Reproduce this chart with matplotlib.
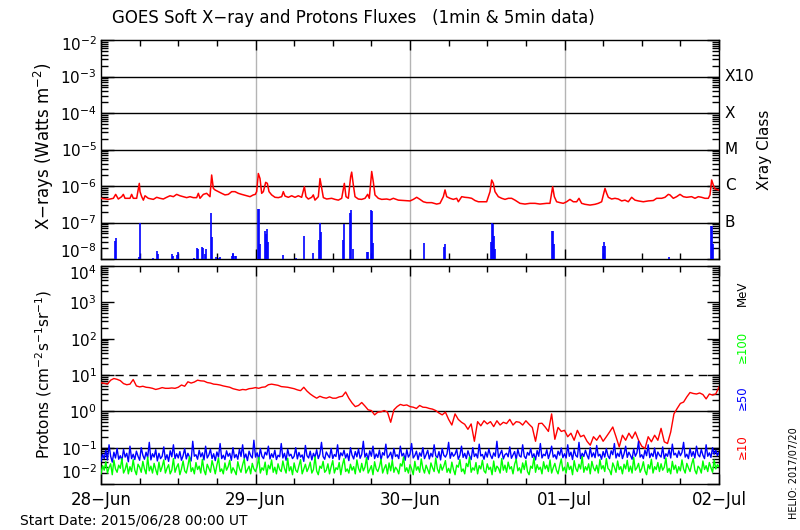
import matplotlib
matplotlib.use('Agg')
import matplotlib.pyplot as plt
import matplotlib.transforms as mtransforms
import numpy as np
from matplotlib.ticker import FixedLocator, LogLocator, NullFormatter, MultipleLocator

plt.rcParams['font.family'] = ['DejaVu Sans']
plt.rcParams['mathtext.fontset'] = 'dejavusans'

# ---------------- DATA ----------------
# hours since 2015-06-28 00:00 UT
day_labels = ['28\u2212Jun', '29\u2212Jun', '30\u2212Jun', '01\u2212Jul', '02\u2212Jul']
day_hours = [0, 24, 48, 72, 96]

# GOES long channel (1-8 A), (hour, W m^-2)
xray_long = [
    (0.0, 4.6e-7), (1.14, 4.3e-7), (1.92, 4.6e-7), (2.28, 5.9e-7), (2.69, 4.4e-7),
    (3.21, 5.1e-7), (3.47, 5.9e-7), (3.73, 4.6e-7), (4.5, 4.6e-7), (4.76, 5.9e-7),
    (5.02, 4.6e-7), (5.54, 4.6e-7), (5.95, 1.18e-6), (6.06, 7.0e-7), (6.32, 5.1e-7),
    (6.58, 4.1e-7), (6.84, 5.4e-7), (7.35, 4.6e-7), (8.13, 4.3e-7), (8.65, 4.9e-7),
    (9.17, 4.6e-7), (9.68, 4.4e-7), (10.2, 4.9e-7), (10.72, 5.4e-7), (11.24, 5.1e-7),
    (11.75, 5.9e-7), (12.27, 5.4e-7), (12.79, 5.1e-7), (13.31, 4.8e-7), (13.83, 5.1e-7),
    (14.34, 4.8e-7), (14.86, 4.8e-7), (15.12, 6.3e-7), (15.38, 4.6e-7), (15.9, 5.9e-7),
    (16.41, 6.3e-7), (16.93, 5.1e-7), (17.19, 2.0e-6), (17.45, 8.6e-7), (17.71, 7.8e-7),
    (18.23, 7.0e-7), (18.74, 6.3e-7), (19.26, 5.7e-7), (19.78, 5.9e-7), (20.3, 7.0e-7),
    (20.82, 7.0e-7), (21.33, 6.3e-7), (21.85, 5.9e-7), (22.63, 5.4e-7), (23.15, 5.1e-7),
    (23.66, 5.7e-7), (23.97, 5.9e-7), (24.18, 7.0e-7), (24.44, 2.2e-6), (24.7, 1.6e-6),
    (24.96, 6.3e-7), (25.22, 7.0e-7), (25.58, 1.26e-6), (25.84, 1.18e-6), (26.1, 7.0e-7),
    (26.51, 5.7e-7), (27.03, 4.9e-7), (27.55, 4.8e-7), (28.07, 5.1e-7), (28.32, 7.0e-7),
    (28.58, 5.3e-7), (29.1, 4.9e-7), (29.62, 5.4e-7), (30.14, 4.9e-7), (30.65, 5.4e-7),
    (31.17, 4.9e-7), (31.59, 9.6e-7), (31.84, 5.1e-7), (32.2, 4.4e-7), (32.73, 4.9e-7),
    (32.98, 5.7e-7), (33.24, 4.1e-7), (33.76, 5.1e-7), (34.02, 1.6e-6), (34.28, 8.6e-7),
    (34.54, 4.8e-7), (35.06, 4.4e-7), (35.83, 4.6e-7), (36.35, 4.3e-7), (36.87, 4.1e-7),
    (37.39, 4.6e-7), (37.8, 1.18e-6), (38.06, 5.1e-7), (38.42, 4.6e-7), (38.78, 1.8e-6),
    (38.94, 2.4e-6), (39.2, 1.06e-6), (39.46, 5.1e-7), (39.97, 4.4e-7), (40.49, 4.3e-7),
    (41.01, 4.6e-7), (41.42, 5.9e-7), (41.68, 4.6e-7), (42.05, 2.5e-6), (42.3, 1.3e-6),
    (42.56, 5.7e-7), (43.08, 4.6e-7), (43.6, 4.3e-7), (44.38, 4.4e-7), (44.89, 4.2e-7),
    (45.41, 4.6e-7), (46.19, 4.1e-7), (47.22, 4.0e-7), (48.0, 3.9e-7), (48.52, 4.3e-7),
    (49.04, 4.9e-7), (49.55, 4.3e-7), (50.07, 3.7e-7), (50.59, 3.5e-7), (51.37, 3.5e-7),
    (52.14, 3.2e-7), (52.66, 3.35e-7), (53.18, 5.1e-7), (53.44, 7.8e-7), (53.7, 5.1e-7),
    (54.21, 4.6e-7), (54.73, 4.3e-7), (55.25, 4.6e-7), (55.51, 3.7e-7), (56.03, 5.1e-7),
    (56.54, 4.9e-7), (57.06, 4.8e-7), (57.58, 4.6e-7), (58.1, 4.0e-7), (58.62, 3.7e-7),
    (59.13, 3.7e-7), (59.91, 3.7e-7), (60.43, 7.0e-7), (60.69, 1.46e-6), (60.95, 1.18e-6),
    (61.2, 7.0e-7), (61.72, 5.1e-7), (62.24, 4.6e-7), (62.76, 4.3e-7), (63.28, 4.6e-7),
    (63.79, 4.6e-7), (64.31, 4.1e-7), (65.08, 3.35e-7), (65.86, 3.2e-7), (66.64, 3.35e-7),
    (67.41, 3.35e-7), (68.19, 3.2e-7), (69.23, 3.35e-7), (69.74, 3.35e-7), (70.0, 6.3e-7),
    (70.16, 9.6e-7), (70.42, 5.1e-7), (70.78, 3.7e-7), (71.3, 3.5e-7), (71.81, 3.35e-7),
    (72.33, 3.7e-7), (72.85, 4.3e-7), (73.37, 3.7e-7), (73.89, 3.7e-7), (74.25, 4.6e-7),
    (74.66, 3.35e-7), (75.18, 3.15e-7), (75.96, 3.0e-7), (76.73, 3.15e-7), (77.25, 3.35e-7),
    (77.77, 3.7e-7), (78.29, 8.6e-7), (78.55, 6.3e-7), (78.81, 4.9e-7), (79.32, 4.4e-7),
    (79.84, 4.6e-7), (80.36, 4.4e-7), (80.88, 3.9e-7), (81.39, 4.1e-7), (81.91, 3.7e-7),
    (82.43, 4.9e-7), (82.95, 4.1e-7), (83.47, 3.9e-7), (84.24, 3.7e-7), (85.02, 3.9e-7),
    (85.8, 4.0e-7), (86.31, 4.6e-7), (87.09, 4.6e-7), (87.61, 4.9e-7), (88.13, 5.9e-7),
    (88.38, 5.7e-7), (88.64, 5.1e-7), (88.9, 4.6e-7), (89.42, 5.1e-7), (89.94, 5.9e-7),
    (90.46, 5.1e-7), (90.97, 4.9e-7), (91.75, 5.1e-7), (92.27, 4.6e-7), (92.79, 5.1e-7),
    (93.3, 4.9e-7), (93.82, 4.6e-7), (94.34, 4.6e-7), (94.6, 5.7e-7), (94.86, 1.46e-6),
    (95.12, 1.06e-6), (95.37, 8.3e-7), (95.89, 7.8e-7), (96.0, 7.8e-7),
]

# GOES short channel (0.5-4 A) flare spikes above 1e-8, (hour, W m^-2)
xray_short = [
    (2.23, 3.1e-8), (2.38, 3.8e-8), (5.96, 1.13e-8), (6.11, 1.0e-7), (8.13, 1.04e-8),
    (8.75, 1.65e-8), (8.91, 1.37e-8), (11.03, 1.37e-8), (11.2, 1.23e-8), (11.86, 1.29e-8),
    (12.01, 1.52e-8), (14.5, 1.04e-8), (14.91, 2.0e-8), (15.07, 1.88e-8), (15.74, 2.18e-8),
    (15.9, 1.96e-8), (16.21, 1.4e-8), (16.36, 1.88e-8), (17.14, 1.82e-7), (17.3, 4.0e-8),
    (17.92, 1.13e-8), (18.28, 1.09e-8), (18.49, 1.11e-8), (20.3, 1.21e-8), (20.45, 1.4e-8),
    (20.56, 1.43e-8), (20.87, 1.21e-8), (21.02, 1.21e-8), (24.39, 2.4e-7), (24.6, 2.4e-7),
    (24.75, 2.6e-8), (25.53, 5.8e-8), (25.68, 4.8e-8), (25.84, 6.6e-8), (25.99, 2.9e-8),
    (28.32, 1.29e-8), (30.29, 1.07e-8), (31.59, 4.4e-8), (32.98, 1.5e-8), (33.92, 3.3e-8),
    (34.07, 9.9e-8), (34.23, 5.6e-8), (37.64, 3.3e-8), (37.8, 9.1e-8), (38.73, 1.86e-7),
    (38.89, 2.2e-7), (39.2, 1.88e-8), (41.37, 1.52e-8), (41.53, 1.52e-8), (41.99, 2.2e-7),
    (42.15, 2.1e-7), (42.3, 2.8e-8), (50.23, 2.7e-8), (53.33, 2.1e-8), (53.49, 2.6e-8),
    (60.53, 2.9e-8), (60.69, 9.9e-8), (60.84, 8.9e-8), (61.0, 4.4e-8), (61.15, 1.88e-8),
    (70.11, 5.8e-8), (70.26, 5.8e-8), (70.42, 2.6e-8), (78.03, 2.3e-8), (78.18, 2.9e-8),
    (78.34, 2.3e-8), (88.18, 1.11e-8), (94.8, 8.0e-8), (94.96, 8.0e-8), (95.12, 2.6e-8),
]

# Proton >=10 MeV, 30-minute samples starting 28-Jun 00:00 UT (pfu)
proton_ge10_step_hours = 0.5
proton_ge10 = [
    6.1, 5.9, 5.6, 7.2, 8.0, 7.6, 7.0, 5.8, 5.4, 5.6,
    7.5, 5.0, 4.7, 4.9, 4.6, 4.5, 4.3, 4.0, 4.2, 4.5,
    4.3, 4.3, 4.4, 4.3, 4.6, 5.3, 4.9, 6.5, 6.0, 6.4,
    7.2, 6.9, 6.8, 6.2, 6.0, 5.6, 5.5, 5.3, 5.0, 4.8,
    4.6, 4.2, 4.0, 3.8, 4.0, 3.9, 4.2, 4.3, 4.5, 4.3,
    4.6, 4.7, 5.4, 5.6, 5.4, 5.2, 4.8, 4.7, 4.6, 4.4,
    4.2, 3.9, 3.7, 4.6, 3.6, 3.0, 2.6, 2.3, 2.6, 2.4,
    2.3, 2.5, 2.3, 2.3, 2.5, 2.6, 3.4, 2.3, 1.7, 1.35,
    1.45, 1.75, 1.4, 1.1, 1.05, 0.8, 0.95, 0.97, 1.05, 0.95,
    0.5, 1.1, 1.35, 1.55, 1.45, 1.5, 1.35, 1.3, 1.2, 1.45,
    1.3, 1.28, 1.2, 1.15, 1.05, 0.9, 0.8, 0.95, 0.6, 0.42,
    0.85, 0.6, 0.5, 0.44, 0.32, 0.45, 0.15, 0.52, 0.4, 0.55,
    0.45, 0.52, 0.38, 0.55, 0.42, 0.5, 0.46, 0.6, 0.42, 0.52,
    0.5, 0.42, 0.55, 0.44, 0.36, 0.15, 0.46, 0.47, 0.37, 0.28,
    0.85, 0.17, 0.36, 0.28, 0.30, 0.2, 0.25, 0.16, 0.3, 0.2,
    0.22, 0.15, 0.117, 0.2, 0.16, 0.22, 0.15, 0.2, 0.27, 0.37,
    0.2, 0.105, 0.22, 0.16, 0.25, 0.18, 0.27, 0.16, 0.11, 0.095,
    0.2, 0.145, 0.22, 0.16, 0.34, 0.145, 0.13, 0.27, 0.85, 1.2,
    1.65, 1.8, 2.5, 3.3, 3.1, 3.0, 3.2, 2.9, 2.2, 3.0,
    2.8, 3.0, 4.7,
]

# Proton >=50 and >=100 MeV, 15-minute samples starting 28-Jun 00:00 UT (pfu)
proton_fine_step_hours = 0.25
proton_ge50 = [
    0.042, 0.065, 0.05, 0.085, 0.046, 0.12, 0.058, 0.04, 0.075, 0.052, 0.095, 0.048,
    0.06, 0.044, 0.09, 0.055, 0.07, 0.041, 0.11, 0.05, 0.066, 0.047, 0.08, 0.058,
    0.045, 0.1, 0.062, 0.048, 0.075, 0.053, 0.14, 0.046, 0.068, 0.055, 0.088, 0.043,
    0.07, 0.05, 0.058, 0.105, 0.047, 0.064, 0.042, 0.082, 0.056, 0.12, 0.05, 0.068,
    0.052, 0.078, 0.045, 0.06, 0.095, 0.049, 0.07, 0.055, 0.043, 0.15, 0.058, 0.064,
    0.048, 0.085, 0.056, 0.072, 0.046, 0.11, 0.052, 0.063, 0.09, 0.05, 0.068, 0.044,
    0.076, 0.055, 0.13, 0.05, 0.062, 0.047, 0.082, 0.058, 0.07, 0.045, 0.1, 0.053,
    0.065, 0.048, 0.09, 0.057, 0.12, 0.051, 0.067, 0.044, 0.08, 0.06, 0.052, 0.16,
    0.055, 0.072, 0.046, 0.095, 0.058, 0.05, 0.075, 0.063, 0.11, 0.049, 0.068, 0.054,
    0.085, 0.047, 0.062, 0.056, 0.13, 0.052, 0.07, 0.045, 0.09, 0.059, 0.066, 0.05,
    0.058, 0.1, 0.049, 0.074, 0.055, 0.063, 0.042, 0.115, 0.06, 0.052, 0.08, 0.046,
    0.07, 0.054, 0.088, 0.05, 0.066, 0.14, 0.057, 0.048, 0.076, 0.062, 0.053, 0.095,
    0.05, 0.065, 0.057, 0.12, 0.047, 0.072, 0.06, 0.085, 0.052, 0.068, 0.044, 0.1,
    0.062, 0.049, 0.078, 0.056, 0.092, 0.051, 0.065, 0.15, 0.055, 0.07, 0.047, 0.082,
    0.058, 0.11, 0.05, 0.067, 0.054, 0.086, 0.046, 0.073, 0.062, 0.125, 0.052, 0.06,
    0.075, 0.048, 0.095, 0.057, 0.064, 0.05, 0.11, 0.059, 0.07, 0.045, 0.088, 0.055,
    0.066, 0.13, 0.052, 0.061, 0.08, 0.047, 0.072, 0.058, 0.1, 0.05, 0.064, 0.085,
    0.049, 0.07, 0.056, 0.12, 0.06, 0.053, 0.078, 0.046, 0.095, 0.062, 0.055, 0.068,
    0.14, 0.051, 0.074, 0.058, 0.066, 0.09, 0.048, 0.062, 0.11, 0.054, 0.07, 0.05,
    0.082, 0.06, 0.047, 0.1, 0.057, 0.068, 0.052, 0.125, 0.059, 0.065, 0.048, 0.076,
    0.055, 0.092, 0.062, 0.05, 0.072, 0.058, 0.15, 0.053, 0.067, 0.085, 0.049, 0.064,
    0.07, 0.056, 0.105, 0.051, 0.063, 0.078, 0.047, 0.09, 0.06, 0.055, 0.12, 0.058,
    0.05, 0.074, 0.062, 0.095, 0.054, 0.068, 0.046, 0.083, 0.058, 0.13, 0.052, 0.066,
    0.06, 0.088, 0.05, 0.071, 0.11, 0.055, 0.064, 0.049, 0.08, 0.062, 0.098, 0.053,
    0.068, 0.052, 0.12, 0.058, 0.075, 0.047, 0.09, 0.061, 0.055, 0.14, 0.05, 0.07,
    0.057, 0.085, 0.062, 0.049, 0.1, 0.056, 0.072, 0.053, 0.115, 0.059, 0.066, 0.048,
    0.078, 0.055, 0.095, 0.06, 0.05, 0.082, 0.064, 0.13, 0.052, 0.07, 0.057, 0.09,
    0.05, 0.068, 0.11, 0.054, 0.075, 0.061, 0.048, 0.092, 0.058, 0.072, 0.15, 0.055,
    0.064, 0.05, 0.085, 0.06, 0.12, 0.053, 0.07, 0.057, 0.098, 0.049, 0.076, 0.062,
    0.055, 0.105, 0.05, 0.068, 0.058, 0.088, 0.052, 0.125, 0.063, 0.07, 0.054, 0.082,
    0.06, 0.074, 0.14, 0.055, 0.066, 0.05, 0.095, 0.058, 0.078, 0.052, 0.11, 0.064,
    0.056, 0.09, 0.062, 0.05, 0.12, 0.058, 0.072, 0.054, 0.1, 0.066, 0.085, 0.06,
    0.075,
]
proton_ge100 = [
    0.019, 0.032, 0.024, 0.041, 0.02, 0.028, 0.036, 0.018, 0.045, 0.026, 0.021, 0.033,
    0.027, 0.05, 0.02, 0.025, 0.038, 0.019, 0.03, 0.022, 0.047, 0.024, 0.018, 0.035,
    0.029, 0.021, 0.042, 0.026, 0.019, 0.055, 0.023, 0.031, 0.02, 0.037, 0.025, 0.018,
    0.04, 0.022, 0.03, 0.046, 0.02, 0.027, 0.034, 0.019, 0.024, 0.05, 0.021, 0.029,
    0.036, 0.018, 0.026, 0.043, 0.023, 0.02, 0.032, 0.057, 0.022, 0.028, 0.019, 0.039,
    0.025, 0.031, 0.02, 0.048, 0.024, 0.018, 0.035, 0.027, 0.021, 0.044, 0.03, 0.019,
    0.033, 0.052, 0.022, 0.026, 0.019, 0.038, 0.024, 0.03, 0.045, 0.02, 0.028, 0.023,
    0.018, 0.041, 0.027, 0.021, 0.034, 0.049, 0.02, 0.025, 0.031, 0.019, 0.037, 0.026,
    0.022, 0.03, 0.054, 0.02, 0.028, 0.024, 0.04, 0.018, 0.033, 0.026, 0.046, 0.021,
    0.029, 0.019, 0.036, 0.025, 0.022, 0.043, 0.027, 0.02, 0.051, 0.023, 0.03, 0.018,
    0.038, 0.024, 0.021, 0.032, 0.047, 0.019, 0.026, 0.035, 0.022, 0.028, 0.04, 0.02,
    0.025, 0.056, 0.023, 0.018, 0.031, 0.027, 0.042, 0.021, 0.024, 0.036, 0.019, 0.03,
    0.044, 0.02, 0.028, 0.025, 0.039, 0.018, 0.033, 0.05, 0.022, 0.026, 0.02, 0.035,
    0.024, 0.03, 0.019, 0.046, 0.027, 0.021, 0.037, 0.023, 0.029, 0.053, 0.02, 0.025,
    0.032, 0.018, 0.041, 0.026, 0.022, 0.03, 0.048, 0.02, 0.027, 0.034, 0.019, 0.038,
    0.023, 0.045, 0.021, 0.029, 0.025, 0.019, 0.036, 0.031, 0.055, 0.022, 0.028, 0.02,
    0.034, 0.026, 0.018, 0.042, 0.024, 0.03, 0.021, 0.049, 0.027, 0.02, 0.033, 0.025,
    0.019, 0.038, 0.028, 0.022, 0.052, 0.026, 0.02, 0.035, 0.024, 0.031, 0.044, 0.021,
    0.027, 0.02, 0.04, 0.025, 0.018, 0.033, 0.029, 0.047, 0.022, 0.026, 0.019, 0.037,
    0.03, 0.055, 0.021, 0.028, 0.024, 0.039, 0.019, 0.032, 0.026, 0.045, 0.023, 0.02,
    0.036, 0.025, 0.029, 0.018, 0.043, 0.022, 0.031, 0.027, 0.02, 0.05, 0.024, 0.033,
    0.021, 0.04, 0.026, 0.03, 0.019, 0.035, 0.048, 0.023, 0.028, 0.02, 0.038, 0.025,
    0.044, 0.022, 0.018, 0.031, 0.027, 0.053, 0.021, 0.034, 0.025, 0.029, 0.019, 0.041,
    0.026, 0.033, 0.022, 0.046, 0.02, 0.028, 0.037, 0.024, 0.019, 0.032, 0.049, 0.023,
    0.029, 0.02, 0.039, 0.025, 0.031, 0.018, 0.044, 0.027, 0.022, 0.035, 0.026, 0.057,
    0.021, 0.03, 0.024, 0.036, 0.019, 0.042, 0.028, 0.023, 0.033, 0.02, 0.047, 0.026,
    0.032, 0.022, 0.05, 0.027, 0.024, 0.018, 0.038, 0.029, 0.021, 0.043, 0.025, 0.03,
    0.019, 0.035, 0.026, 0.045, 0.022, 0.031, 0.02, 0.054, 0.024, 0.028, 0.037, 0.021,
    0.027, 0.041, 0.023, 0.018, 0.034, 0.026, 0.048, 0.02, 0.03, 0.025, 0.039, 0.022,
    0.036, 0.024, 0.029, 0.052, 0.021, 0.027, 0.019, 0.042, 0.025, 0.033, 0.02, 0.03,
    0.023, 0.046, 0.026, 0.02, 0.037, 0.028, 0.022, 0.035, 0.05, 0.024, 0.019, 0.031,
    0.027, 0.02, 0.043, 0.025, 0.032, 0.022, 0.039, 0.028, 0.021, 0.046, 0.026, 0.034,
    0.03,
]

xray_class_labels = ['X10', 'X', 'M', 'C', 'B']
xray_class_levels = [1e-3, 1e-4, 1e-5, 1e-6, 1e-7]

# ---------------- PLOT ----------------
W, H = 800, 530
fig = plt.figure(figsize=(W / 100, H / 100), dpi=100)
fig.patch.set_facecolor('white')

L, R = 101, 719
ax1 = fig.add_axes([L / W, 1 - 259 / H, (R - L) / W, (259 - 40) / H])
ax2 = fig.add_axes([L / W, 1 - 484 / H, (R - L) / W, (484 - 266) / H])


def style_axis(ax, ymin_exp, ymax_exp, show_xlabels, shift_bottom_px, shift_top_px):
    ax.set_yscale('log')
    ax.set_xlim(day_hours[0], day_hours[-1])
    ax.set_ylim(10.0 ** ymin_exp, 10.0 ** ymax_exp)
    exps = list(range(ymin_exp, ymax_exp + 1))
    ax.yaxis.set_major_locator(FixedLocator([10.0 ** e for e in exps]))
    ax.set_yticklabels([r'$10^{%d}$' % e for e in exps])
    ax.yaxis.set_minor_locator(LogLocator(base=10, subs=np.arange(2, 10)))
    ax.yaxis.set_minor_formatter(NullFormatter())
    ax.xaxis.set_major_locator(FixedLocator(day_hours))
    ax.xaxis.set_minor_locator(MultipleLocator(6))
    if show_xlabels:
        ax.set_xticklabels(day_labels)
    else:
        ax.set_xticklabels([])
    ax.tick_params(axis='both', which='both', direction='in', left=True, right=True,
                   top=True, bottom=True, colors='black', width=1.0)
    ax.tick_params(axis='y', which='major', length=9, labelsize=11, pad=3)
    ax.tick_params(axis='y', which='minor', length=5)
    ax.tick_params(axis='x', which='major', length=7, labelsize=12, pad=5)
    ax.tick_params(axis='x', which='minor', length=4)
    for s in ax.spines.values():
        s.set_linewidth(1.0)
        s.set_color('black')
    for d in day_hours[1:-1]:
        ax.axvline(d, color='#b4b4b4', lw=1.0, zorder=1)
    # nudge the end labels inward, like the original layout
    labels = ax.get_yticklabels()
    off_b = mtransforms.ScaledTranslation(0, shift_bottom_px / 100, fig.dpi_scale_trans)
    off_t = mtransforms.ScaledTranslation(0, -shift_top_px / 100, fig.dpi_scale_trans)
    labels[0].set_transform(labels[0].get_transform() + off_b)
    labels[-1].set_transform(labels[-1].get_transform() + off_t)


style_axis(ax1, -8, -2, False, 9, 3)
style_axis(ax2, -2, 4, True, 13, 6)

# X-ray panel
for lvl in xray_class_levels:
    ax1.axhline(lvl, color='black', lw=1.0, zorder=1)
lh = [p[0] for p in xray_long]
lf = [p[1] for p in xray_long]
ax1.plot(lh, lf, color='#ff0000', lw=1.1, zorder=3)
sh = [p[0] for p in xray_short]
sf = [p[1] for p in xray_short]
ax1.vlines(sh, 1e-9, sf, color='#0000ff', lw=1.2, zorder=3)

for lab, lvl in zip(xray_class_labels, xray_class_levels):
    ax1.text(1.0097, lvl, lab, transform=ax1.get_yaxis_transform(), ha='left',
             va='center', fontsize=11)

# Proton panel
ax2.axhline(10, color='black', lw=1.0, ls=(0, (6, 4)), zorder=1)
ax2.axhline(1, color='black', lw=1.0, zorder=1)
ax2.axhline(0.1, color='black', lw=1.0, zorder=1)
t10 = np.arange(len(proton_ge10)) * proton_ge10_step_hours
t50 = np.arange(len(proton_ge50)) * proton_fine_step_hours
t100 = np.arange(len(proton_ge100)) * proton_fine_step_hours
ax2.plot(t10, proton_ge10, color='#ff0000', lw=1.0, zorder=3)
ax2.plot(t50, proton_ge50, color='#0000ff', lw=1.0, zorder=3)
ax2.plot(t100, proton_ge100, color='#00ff00', lw=1.0, zorder=4)

# Texts
fig.text(353 / W, 1 - 18 / H, 'GOES Soft X\u2212ray and Protons Fluxes   (1min & 5min data)',
         ha='center', va='center', fontsize=12)
fig.text(44 / W, 1 - 146 / H, 'X\u2212rays (Watts m$^{-2}$)', rotation=90,
         ha='center', va='center', fontsize=12)
fig.text(44 / W, 1 - 374 / H, 'Protons (cm$^{-2}$s$^{-1}$sr$^{-1}$)', rotation=90,
         ha='center', va='center', fontsize=11)
fig.text(765 / W, 1 - 150 / H, 'Xray Class', rotation=90, ha='center', va='center',
         fontsize=11)
fig.text(742 / W, 1 - 293 / H, 'MeV', rotation=90, ha='center', va='center',
         fontsize=8.5, color='black')
fig.text(742 / W, 1 - 347 / H, '\u2265100', rotation=90, ha='center', va='center',
         fontsize=8.5, color='#00ff00')
fig.text(742 / W, 1 - 398 / H, '\u226550', rotation=90, ha='center', va='center',
         fontsize=8.5, color='#0000ff')
fig.text(742 / W, 1 - 447 / H, '\u226510', rotation=90, ha='center', va='center',
         fontsize=8.5, color='#ff0000')
fig.text(794 / W, 1 - 473 / H, 'HELIO: 2017/07/20', rotation=90, ha='center',
         va='center', fontsize=7)
fig.text(20 / W, 1 - 521 / H, 'Start Date: 2015/06/28 00:00 UT', ha='left',
         va='center', fontsize=10)

fig.savefig('out.png', dpi=100)
